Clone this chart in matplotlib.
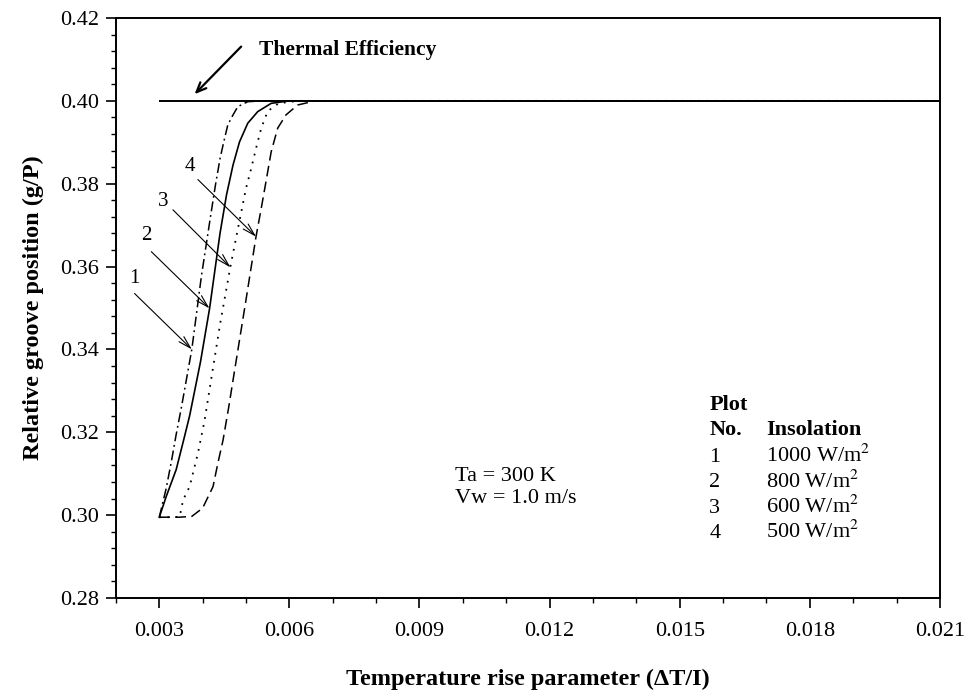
import matplotlib
matplotlib.use("Agg")
import matplotlib.pyplot as plt
from matplotlib.ticker import MultipleLocator, FormatStrFormatter

plt.rcParams['font.family'] = ['Liberation Serif', 'DejaVu Serif']
plt.rcParams['mathtext.fontset'] = 'stix'

# Curve 1: 1000 W/m2 (dash-dot)
x1 = [0.00300, 0.00316, 0.00328, 0.00339, 0.00351, 0.00375, 0.00397, 0.00418, 0.00430,
      0.00440, 0.00448, 0.00458, 0.00470, 0.00481, 0.00504, 0.00540, 0.02100]
y1 = [0.2995, 0.3065, 0.3130, 0.3195, 0.3260, 0.3400, 0.3576, 0.3720, 0.3800,
      0.3860, 0.3898, 0.3942, 0.3966, 0.3986, 0.3998, 0.4000, 0.4000]
# Curve 2: 800 W/m2 (solid)
x2 = [0.00300, 0.00316, 0.00339, 0.00358, 0.00370, 0.00395, 0.00416, 0.00440, 0.00455,
      0.00470, 0.00485, 0.00504, 0.00527, 0.00558, 0.00600, 0.02100]
y2 = [0.2995, 0.3045, 0.3110, 0.3189, 0.3240, 0.3370, 0.3499, 0.3680, 0.3773,
      0.3845, 0.3901, 0.3946, 0.3974, 0.3994, 0.4000, 0.4000]
# Curve 3: 600 W/m2 (dotted)
x3 = [0.00300, 0.00330, 0.00347, 0.00355, 0.00370, 0.00389, 0.00404, 0.00420, 0.00440,
      0.00464, 0.00481, 0.00500, 0.00512, 0.00523, 0.00535, 0.00550, 0.00575, 0.00620, 0.02100]
y3 = [0.2995, 0.2995, 0.2996, 0.3037, 0.3069, 0.3149, 0.3226, 0.3330, 0.3460,
      0.3600, 0.3690, 0.3789, 0.3837, 0.3885, 0.3934, 0.3975, 0.3994, 0.4000, 0.4000]
# Curve 4: 500 W/m2 (dashed)
x4 = [0.00300, 0.00330, 0.00347, 0.00375, 0.00400, 0.00424, 0.00435, 0.00447, 0.00460,
      0.00473, 0.00500, 0.00523, 0.00535, 0.00546, 0.00558, 0.00573, 0.00592, 0.00619, 0.00660, 0.02100]
y4 = [0.2995, 0.2995, 0.2995, 0.2997, 0.3017, 0.3069, 0.3125, 0.3181, 0.3260,
      0.3345, 0.3520, 0.3672, 0.3740, 0.3805, 0.3877, 0.3934, 0.3966, 0.3990, 0.4000, 0.4000]
# Thermal efficiency line
te_x = [0.003, 0.021]
te_y = [0.40, 0.40]

plot_no = ['1', '2', '3', '4']
insolation = ['1000 W/m$^2$', '800 W/m$^2$', '600 W/m$^2$', '500 W/m$^2$']

fig = plt.figure(figsize=(9.66, 6.95), dpi=100)
ax = fig.add_axes([0.120, 0.1396, 0.853, 0.8345])

ax.plot(te_x, te_y, color='black', lw=1.4, solid_capstyle='butt')
ax.plot(x1, y1, color='black', lw=1.1, dashes=(6.5, 2.5, 1.2, 2.5))
ax.plot(x2, y2, color='black', lw=1.2)
ax.plot(x3, y3, color='black', lw=1.3, dashes=(1, 3.5))
ax.plot(x4, y4, color='black', lw=1.1, dashes=(7, 3.5))

ax.set_xlim(0.002, 0.021)
ax.set_ylim(0.28, 0.42)
ax.xaxis.set_minor_locator(MultipleLocator(0.001))
ax.yaxis.set_major_locator(MultipleLocator(0.02))
ax.yaxis.set_minor_locator(MultipleLocator(0.004))
ax.set_xticks([0.003, 0.006, 0.009, 0.012, 0.015, 0.018, 0.021])
ax.xaxis.set_major_formatter(FormatStrFormatter('%.3f'))
ax.yaxis.set_major_formatter(FormatStrFormatter('%.2f'))
ax.tick_params(which='major', direction='out', length=7, width=1.2, labelsize=16)
ax.tick_params(which='minor', direction='out', length=3.5, width=1.0)
ax.tick_params(axis='x', which='major', pad=10)
ax.tick_params(axis='y', which='major', pad=5)
for s in ax.spines.values():
    s.set_linewidth(1.4)

ax.set_xlabel('Temperature rise parameter (ΔT/I)', fontsize=17.5, fontweight='bold', labelpad=20)
ax.set_ylabel('Relative groove position (g/P)', fontsize=17.5, fontweight='bold', labelpad=12)

# Thermal efficiency annotation
ax.annotate('', xy=(0.003813, 0.4016), xytext=(0.004888, 0.4131),
            arrowprops=dict(arrowstyle='->,head_length=0.7,head_width=0.3', lw=1.6, color='black',
                            shrinkA=0, shrinkB=0))
ax.text(0.0053, 0.4123, 'Thermal Efficiency', fontsize=15.5, fontweight='bold', va='center', ha='left')

# Curve number arrows
lab_pos = [(0.002432, 0.3572), (0.0027, 0.3676), (0.003085, 0.3757), (0.003698, 0.3841)]
tails = [(0.00243, 0.3535), (0.002816, 0.3636), (0.003315, 0.3737), (0.00389, 0.3810)]
tips = [(0.003752, 0.3400), (0.004158, 0.3499), (0.004642, 0.3598), (0.005233, 0.3672)]
for lab, lp, tl, tp in zip(plot_no, lab_pos, tails, tips):
    ax.annotate('', xy=tp, xytext=tl,
                arrowprops=dict(arrowstyle='->,head_length=0.9,head_width=0.25', lw=0.8, color='black',
                                shrinkA=0, shrinkB=0))
    ax.text(lp[0], lp[1], lab, fontsize=15, ha='center', va='center')

ax.text(0.009814, 0.3083, 'Ta = 300 K', fontsize=16, va='baseline', ha='left')
ax.text(0.009814, 0.3029, 'Vw = 1.0 m/s', fontsize=16, va='baseline', ha='left')

# Legend table
lx1, lx2 = 0.01568, 0.0170
ax.text(lx1, 0.3254, 'Plot', fontsize=16, fontweight='bold', va='baseline', ha='left')
ax.text(lx1, 0.3193, 'No.', fontsize=16, fontweight='bold', va='baseline', ha='left')
ax.text(lx2, 0.3193, 'Insolation', fontsize=16, fontweight='bold', va='baseline', ha='left')
row_y = [0.3128, 0.3067, 0.3005, 0.2945]
for n, ins, yy in zip(plot_no, insolation, row_y):
    ax.text(lx1, yy, n, fontsize=16, va='baseline', ha='left')
    ax.text(lx2, yy, ins, fontsize=16, va='baseline', ha='left')

fig.savefig('out.png', dpi=100)
